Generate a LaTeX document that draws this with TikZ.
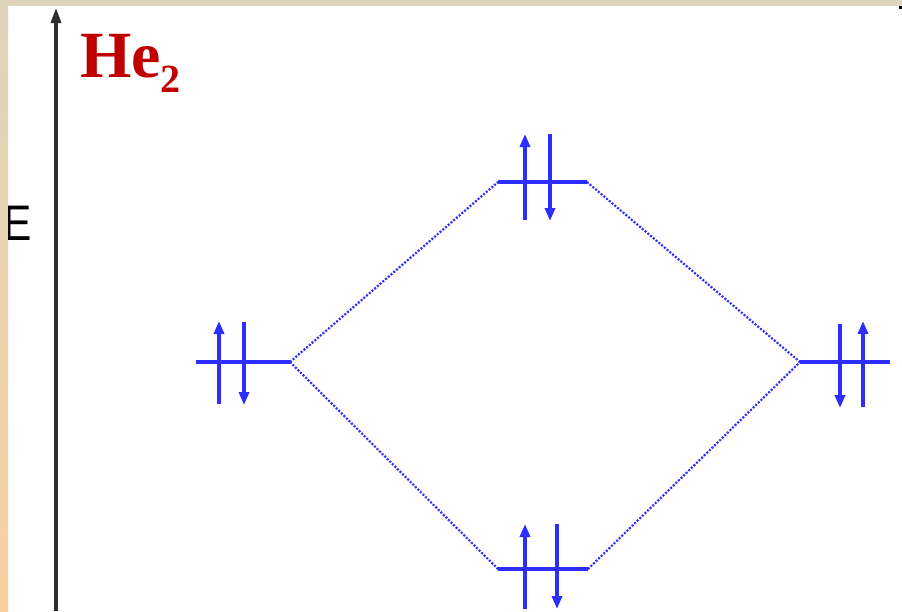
\documentclass[tikz,border=0pt]{standalone}
\usepackage{fontspec}
\setmainfont{Liberation Serif}
\setsansfont{Liberation Sans}
\usetikzlibrary{arrows.meta}
\definecolor{stripbeige}{HTML}{DED4BC}
\definecolor{stripsand}{HTML}{F8D0A0}
\definecolor{levelblue}{RGB}{45,45,255}
\definecolor{titlered}{HTML}{C00000}
\definecolor{axisgray}{HTML}{2E2E2E}
\tikzset{
  level/.style={draw=levelblue, line width=4pt},
  elec/.style={draw=levelblue, line width=3.4pt,
    -{Triangle[length=13pt,width=10pt]}},
  corr/.style={draw=levelblue, line width=2.2pt,
    dash pattern=on 2pt off 1.6pt},
  axis/.style={draw=axisgray, line width=3.2pt,
    -{Triangle[length=15pt,width=10pt]}},
}
\begin{document}
\begin{tikzpicture}[x=1pt,y=-1pt]
\useasboundingbox (0,0) rectangle (902,611);
% page background and frame strips
\fill[white] (0,0) rectangle (902,611);
\fill[stripbeige] (0,0) rectangle (902,6);
\shade[top color=stripbeige, bottom color=stripsand] (0,0) rectangle (8,611);
\fill[black] (899,6) rectangle (902,9);

% energy axis
\coordinate (axbot) at (56,611);
\coordinate (axtop) at (56,8);
\draw[axis] (axbot) -- (axtop);
\begin{scope}
  \clip (8,0) rectangle (60,611);
  \node[font=\sffamily\fontsize{50}{50}\selectfont, anchor=base west, inner sep=0pt]
    (elabel) at (3,240) {\scalebox{0.85}[1]{E}};
\end{scope}

% title
\node[font=\bfseries\fontsize{66}{66}\selectfont, text=titlered,
  anchor=base west, inner sep=0pt] (title) at (80,77)
  {He\raisebox{-15pt}{\fontsize{40}{40}\selectfont 2}};

% atomic orbital (left)
\coordinate (La) at (196,362);
\coordinate (Lb) at (290,362);
\draw[level] (La) -- (Lb);
\draw[elec] (219,404) -- (219,321);
\draw[elec] (244,322) -- (244,405);

% atomic orbital (right)
\coordinate (Ra) at (800,362);
\coordinate (Rb) at (890,362);
\draw[level] (Ra) -- (Rb);
\draw[elec] (840,324) -- (840,408);
\draw[elec] (863,407) -- (863,321);

% antibonding orbital
\coordinate (Aa) at (498,182);
\coordinate (Ab) at (587,182);
\draw[level] (Aa) -- (Ab);
\draw[elec] (525,220) -- (525,134);
\draw[elec] (550,134) -- (550,221);

% bonding orbital
\coordinate (Ba) at (498,569);
\coordinate (Bb) at (588,569);
\draw[level] (Ba) -- (Bb);
\draw[elec] (525,609) -- (525,524);
\draw[elec] (557,524) -- (557,609);

% correlation lines
\draw[corr] (Lb) -- (Aa);
\draw[corr] (Lb) -- (Ba);
\draw[corr] (Ab) -- (Ra);
\draw[corr] (Bb) -- (Ra);
\end{tikzpicture}
\end{document}
